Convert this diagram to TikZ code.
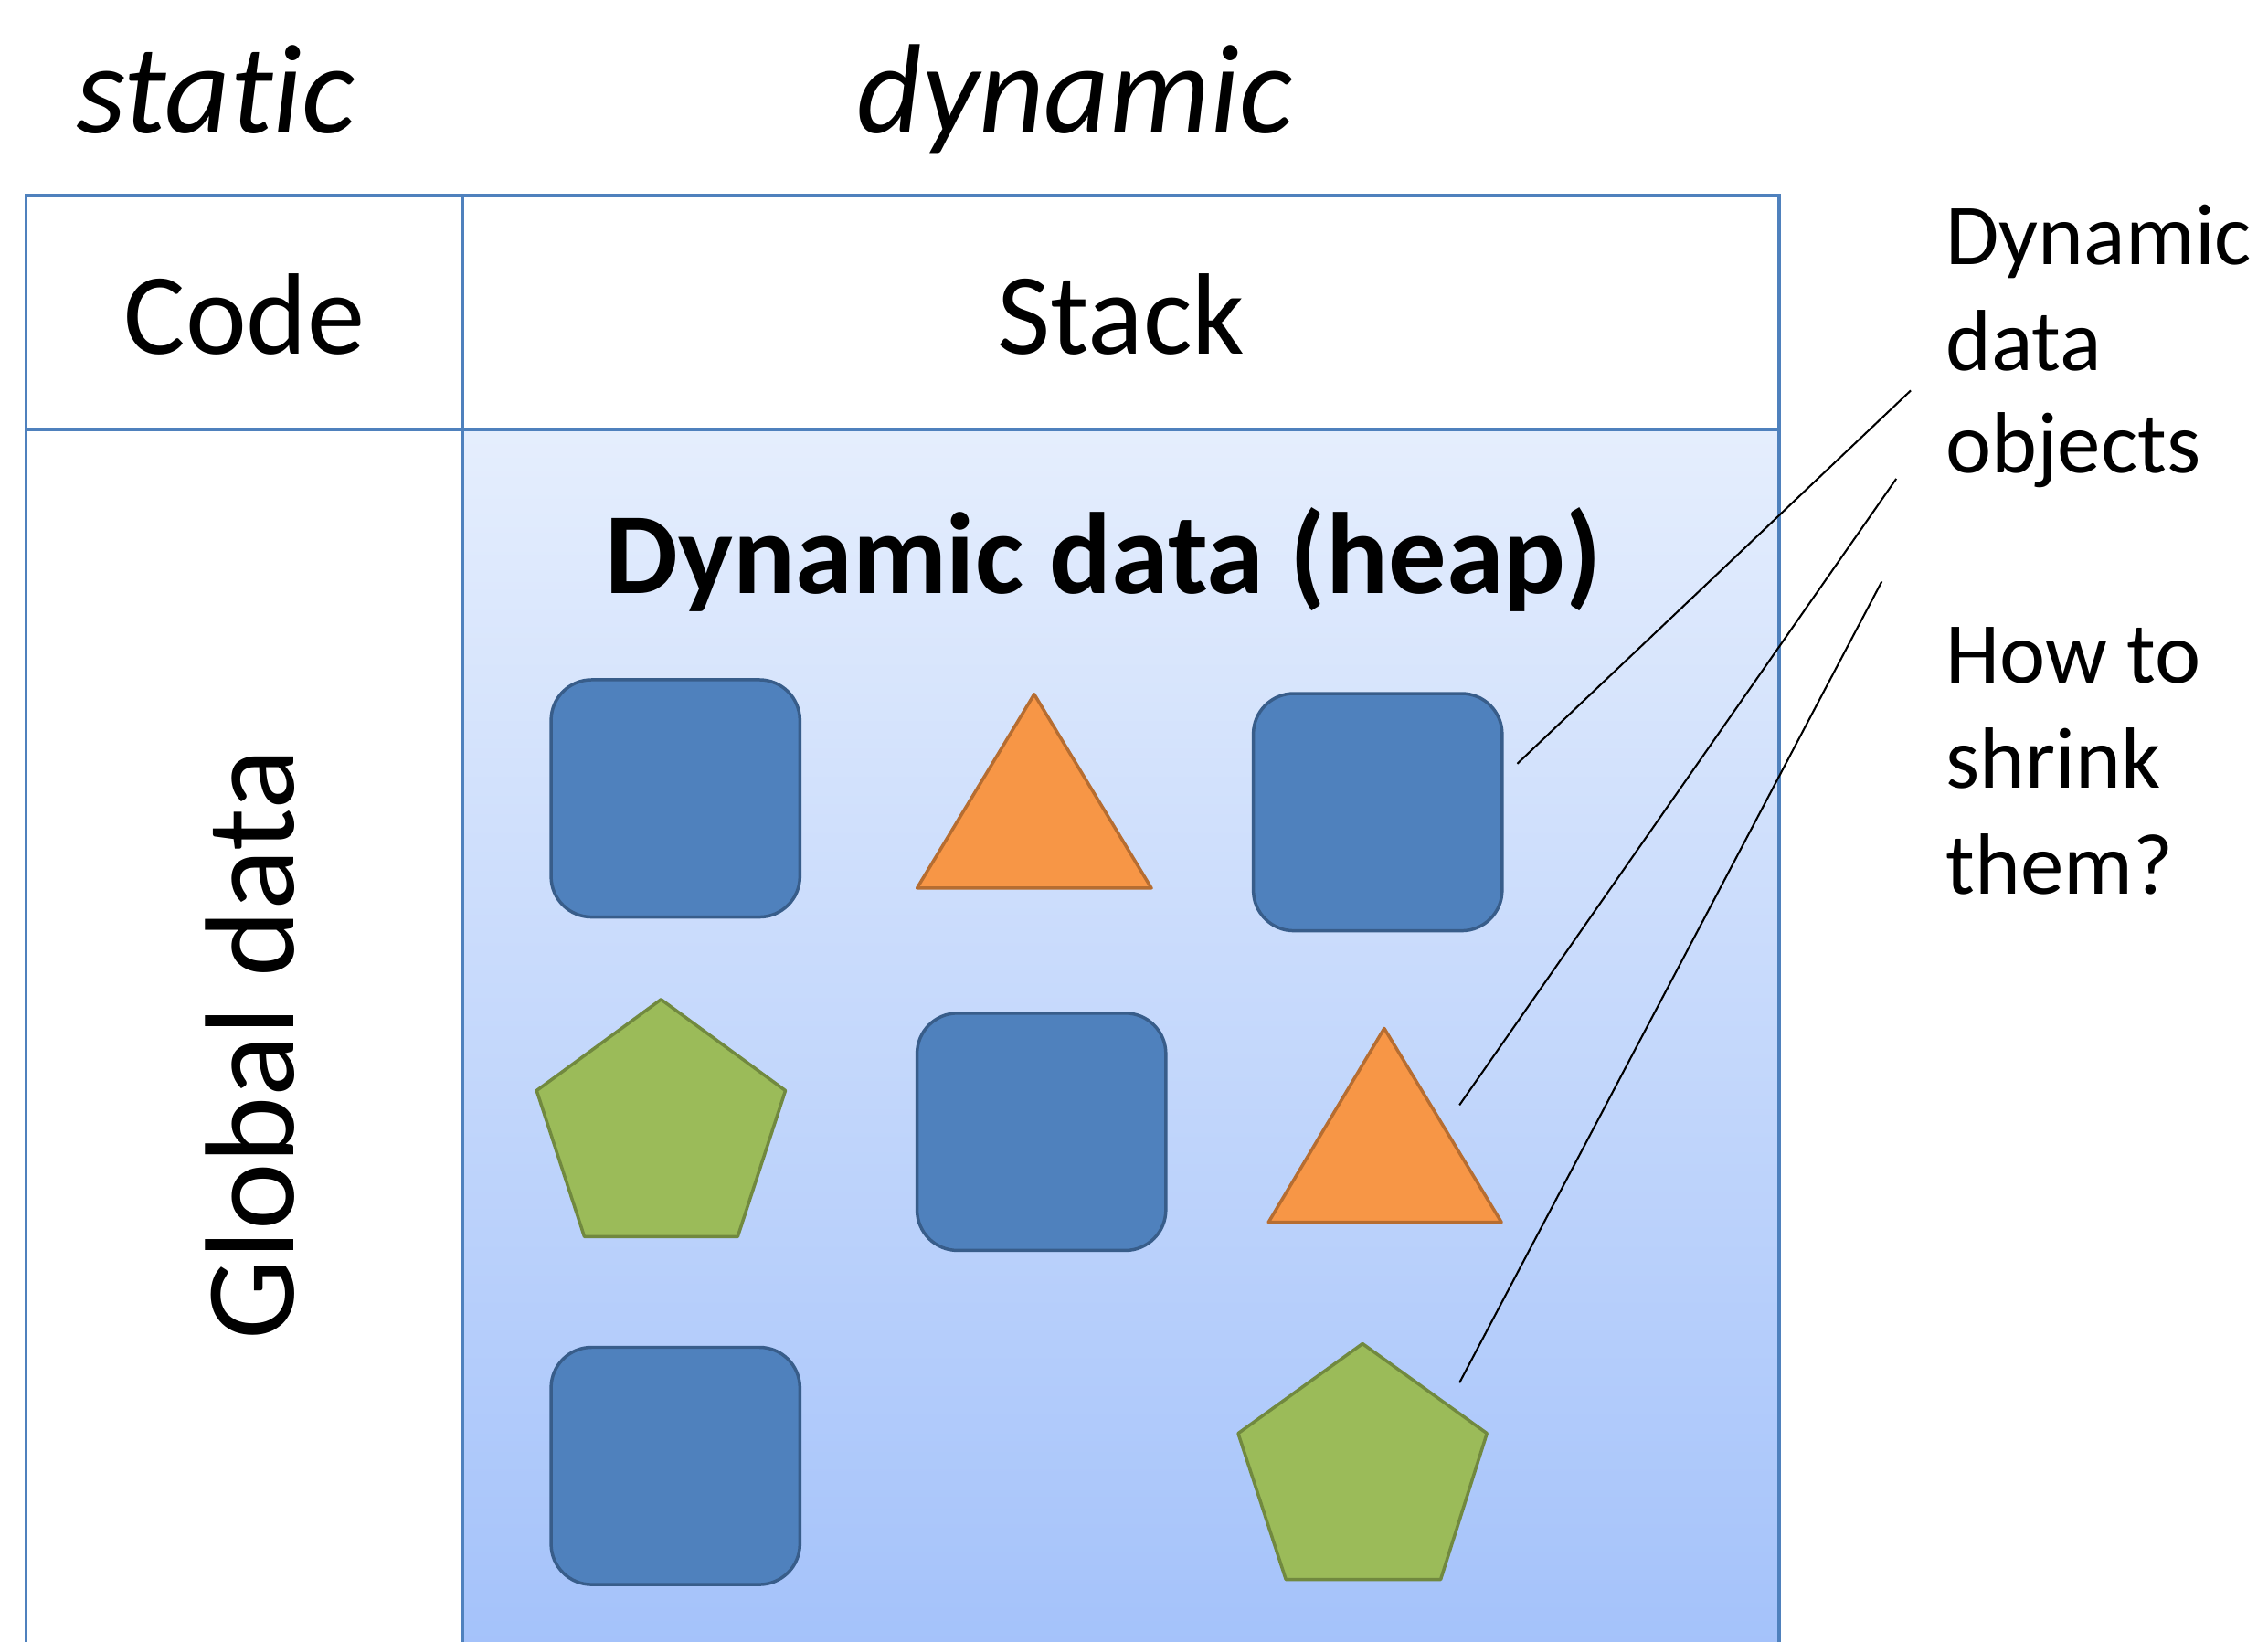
\documentclass[tikz,border=0pt]{standalone}
\usepackage{fontspec}
\setmainfont{Carlito}[Ligatures={NoCommon}]
\definecolor{boxblue}{HTML}{4F81BD}
\definecolor{objblue}{HTML}{4F81BD}
\definecolor{objblueline}{HTML}{385D8A}
\definecolor{objorange}{HTML}{F79646}
\definecolor{objorangeline}{HTML}{B66D31}
\definecolor{objgreen}{HTML}{9BBB59}
\definecolor{objgreenline}{HTML}{71893F}
\definecolor{heaptop}{HTML}{E5EEFD}
\definecolor{heapbot}{HTML}{A4C2FA}
\begin{document}
\begin{tikzpicture}[x=1pt,y=-1pt,
  boxline/.style={draw=boxblue,line width=2.4pt},
  objsq/.style={draw=objblueline,fill=objblue,line width=2.2pt,rounded corners=28pt,minimum width=172pt,minimum height=164pt,inner sep=0pt},
  objtri/.style={draw=objorangeline,fill=objorange,line width=2.2pt,line join=round},
  objpent/.style={draw=objgreenline,fill=objgreen,line width=2.2pt,line join=round},
  lbl/.style={font=\fontsize{80}{96}\selectfont,inner sep=0pt},
  ital/.style={font=\fontsize{88}{100}\selectfont\itshape,inner sep=0pt},
  side/.style={font=\fontsize{60}{73}\selectfont,inner sep=0pt,anchor=base west},
  conn/.style={draw=black,line width=1.3pt}]
\useasboundingbox (0,0) rectangle (1568,1135);
\clip (0,0) rectangle (1568,1135);
% heap background
\fill[top color=heaptop,bottom color=heapbot] (320,297) rectangle (1230,1140);
% frame
\draw[boxline] (18,1145) -- (18,135) -- (1230,135) -- (1230,1145);
\draw[boxline] (320,135) -- (320,1145);
\draw[boxline] (18,297) -- (1230,297);
% top labels
\node[ital,anchor=base] (static) at (149,92) {sta\kern0pt t\kern0pt ic};
\node[ital,anchor=base] (dynamic) at (743,92) {dynamic};
\node[lbl,anchor=base] (code) at (169,245) {Code};
\node[lbl,anchor=base] (stack) at (775,245) {Stack};
\node[lbl,anchor=base,font=\fontsize{80}{96}\selectfont\bfseries] (heap) at (763,410) {Dynamic data (heap)};
\node[font=\fontsize{88}{100}\selectfont,inner sep=0pt,anchor=base,rotate=90] (global) at (203,722) {Global data};
% objects
\node[objsq] (sq1) at (467,552) {};
\node[objsq] (sq2) at (952.5,561.5) {};
\node[objsq] (sq3) at (720,782.5) {};
\node[objsq] (sq4) at (467,1013.5) {};
\draw[objtri] (715,480) -- (796,614) -- (634,614) -- cycle;
\draw[objtri] (957,711) -- (1038,845) -- (877,845) -- cycle;
\draw[objpent] (457,691) -- (543,754) -- (510,855) -- (404,855) -- (371,754) -- cycle;
\draw[objpent] (942,929) -- (1028,991) -- (996,1092) -- (889,1092) -- (856,991) -- cycle;
% side labels
\node[side] (d1) at (1345,183) {Dynamic};
\node[side] (d2) at (1345,256) {data};
\node[side] (d3) at (1345,327) {objects};
\node[side] (h1) at (1345,472) {How to};
\node[side] (h2) at (1345,545) {shrink};
\node[side] (h3) at (1345,618) {them?};
% connectors
\coordinate (a1) at (1049,528);
\coordinate (b1) at (1321,270);
\coordinate (a2) at (1009,764);
\coordinate (b2) at (1311,331);
\coordinate (a3) at (1009,956);
\coordinate (b3) at (1301,402);
\draw[conn] (a1) -- (b1);
\draw[conn] (a2) -- (b2);
\draw[conn] (a3) -- (b3);
\end{tikzpicture}
\end{document}
